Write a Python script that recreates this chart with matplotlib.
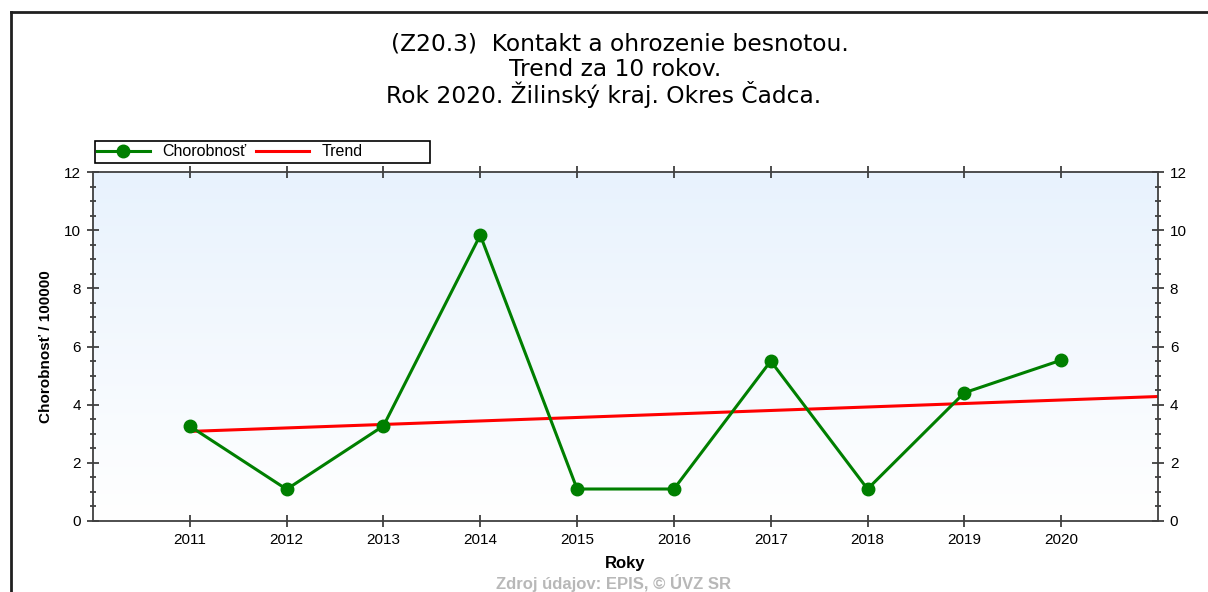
import numpy as np
import matplotlib
matplotlib.use('Agg')
import matplotlib.pyplot as plt
from matplotlib.ticker import MultipleLocator
from matplotlib.lines import Line2D
from matplotlib.patches import Rectangle

plt.rcParams['font.family'] = ['Liberation Sans', 'DejaVu Sans']

# data
years = [2011, 2012, 2013, 2014, 2015, 2016, 2017, 2018, 2019, 2020]
chorobnost = [3.26, 1.09, 3.27, 9.83, 1.10, 1.10, 5.50, 1.10, 4.41, 5.53]
trend_years = [2011, 2021]
trend_values = [3.08, 4.28]

title_lines = ['(Z20.3)  Kontakt a ohrozenie besnotou.',
               'Trend za 10 rokov.',
               'Rok 2020. Žilinský kraj. Okres Čadca.']
ylabel = 'Chorobnosť / 100000'
xlabel = 'Roky'
source = 'Zdroj údajov: EPIS, © ÚVZ SR'

W, H = 1208, 592
fig = plt.figure(figsize=(W / 100, H / 100), dpi=100)

def fx(px):
    return px / W

def fy(py):
    return 1 - py / H

# outer frame (only top and left edges visible)
fig.add_artist(Line2D([fx(11), fx(11)], [0, fy(12)], transform=fig.transFigure,
                      color='#202020', lw=2))
fig.add_artist(Line2D([fx(11), 1], [fy(12), fy(12)], transform=fig.transFigure,
                      color='#202020', lw=2))

ax = fig.add_axes([fx(93), fy(521), fx(1158 - 93), (521 - 172) / H])

# gradient background
grad = np.linspace(1, 0, 256).reshape(-1, 1)
cmap = matplotlib.colors.LinearSegmentedColormap.from_list('bg', ['#ffffff', '#e8f2fd'])
ax.imshow(grad, extent=[0, 1, 0, 1], transform=ax.transAxes, cmap=cmap,
          aspect='auto', zorder=0)

ax.plot(trend_years, trend_values, color='#ff0000', lw=2.2, zorder=2)
ax.plot(years, chorobnost, color='#007f00', lw=2.2, marker='o', markersize=9,
        zorder=3)

ax.set_xlim(2010, 2021)
ax.set_ylim(0, 12)
ax.set_xticks(years)
ax.yaxis.set_major_locator(MultipleLocator(2))
ax.yaxis.set_minor_locator(MultipleLocator(0.5))

ax.tick_params(axis='both', which='major', direction='inout', length=9, width=1.2,
               labelsize=11, colors='#303030', labelcolor='black', pad=4)
ax.tick_params(axis='x', top=True, labeltop=False, length=8, pad=5)
ax.tick_params(axis='y', which='both', right=True, labelright=True)
ax.tick_params(axis='y', which='minor', direction='inout', length=5, width=1.2, colors='#303030')
ax.tick_params(axis='x', which='minor', bottom=False, top=False)

for sp in ax.spines.values():
    sp.set_color('#404040')
    sp.set_linewidth(1.3)

ax.set_ylabel(ylabel, fontsize=11, fontweight='bold', labelpad=8)
ax.set_xlabel(xlabel, fontsize=12, fontweight='bold', labelpad=6)

for y_px, x_px, line in zip([44, 69, 94], [620, 615, 604], title_lines):
    fig.text(fx(x_px), fy(y_px), line, ha='center', va='center', fontsize=16.8,
             family=['DejaVu Sans'])

fig.text(fx(614), fy(589), source, ha='center', va='baseline', fontsize=12,
         fontweight='bold', color='#b8b8b8')

# legend
fig.add_artist(Rectangle((fx(95), fy(163)), fx(335), 22 / H, transform=fig.transFigure,
                         facecolor='white', edgecolor='black', lw=1.2))
h = [Line2D([], [], color='#007f00', lw=2.2, marker='o', markersize=9),
     Line2D([], [], color='#ff0000', lw=2.2)]
leg = fig.legend(h, ['Chorobnosť', 'Trend'], ncol=2, loc='center left',
                 bbox_to_anchor=(fx(97), fy(152)), fontsize=11.5, frameon=False,
                 handlelength=3.3, columnspacing=0.6, handletextpad=0.8,
                 borderaxespad=0, borderpad=0)

fig.savefig('out.png', dpi=100)
